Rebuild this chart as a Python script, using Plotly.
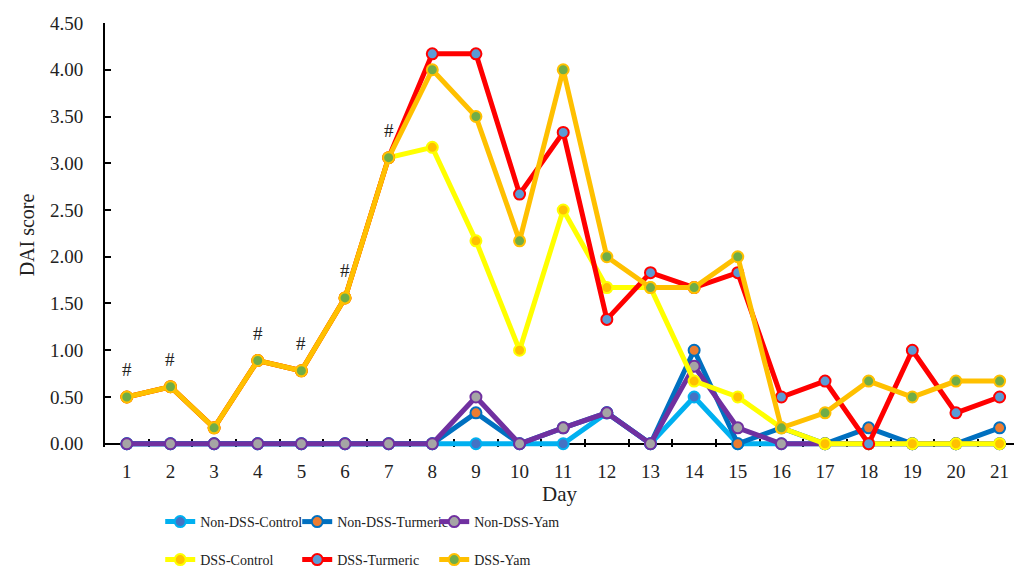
import plotly.graph_objects as go

days = list(range(1, 22))
non_dss_control = [0, 0, 0, 0, 0, 0, 0, 0, 0, 0, 0, 0.33, 0, 0.5, 0, 0, 0, 0, 0, 0, 0]
non_dss_turmeric = [0, 0, 0, 0, 0, 0, 0, 0, 0.33, 0, 0.17, 0.33, 0, 1.0, 0, 0.17, 0, 0.17, 0, 0, 0.17]
non_dss_yam = [0, 0, 0, 0, 0, 0, 0, 0, 0.5, 0, 0.17, 0.33, 0, 0.83, 0.17, 0, 0, 0, 0, 0, 0]
dss_control = [0.5, 0.61, 0.17, 0.89, 0.78, 1.56, 3.06, 3.17, 2.17, 1.0, 2.5, 1.67, 1.67, 0.67, 0.5, 0.17, 0, 0, 0, 0, 0]
dss_turmeric = [0.5, 0.61, 0.17, 0.89, 0.78, 1.56, 3.06, 4.17, 4.17, 2.67, 3.33, 1.33, 1.83, 1.67, 1.83, 0.5, 0.67, 0, 1.0, 0.33, 0.5]
dss_yam = [0.5, 0.61, 0.17, 0.89, 0.78, 1.56, 3.06, 4.0, 3.5, 2.17, 4.0, 2.0, 1.67, 1.67, 2.0, 0.17, 0.33, 0.67, 0.5, 0.67, 0.67]
hash_days = [1, 2, 4, 5, 6, 7]

FONT = "Liberation Serif, Times New Roman, serif"

series = [
    ("Non-DSS-Control", non_dss_control, "#00B0F0", "#4472C4", "legend"),
    ("Non-DSS-Turmeric", non_dss_turmeric, "#0070C0", "#ED7D31", "legend"),
    ("Non-DSS-Yam", non_dss_yam, "#7030A0", "#A5A5A5", "legend"),
    ("DSS-Control", dss_control, "#FFFF00", "#FFC000", "legend2"),
    ("DSS-Turmeric", dss_turmeric, "#FF0000", "#5B9BD5", "legend2"),
    ("DSS-Yam", dss_yam, "#FFC000", "#70AD47", "legend2"),
]

fig = go.Figure()
for name, vals, lc, mc, lg in series:
    fig.add_trace(go.Scatter(
        x=days, y=vals, name=name, mode="lines+markers",
        line=dict(color=lc, width=5),
        marker=dict(symbol="circle", size=11, color=mc, line=dict(color=lc, width=2)),
        cliponaxis=False, legend=lg,
    ))

for d in hash_days:
    fig.add_annotation(x=d, y=dss_yam[d - 1], text="#", showarrow=False, yshift=27,
                       font=dict(family=FONT, size=19, color="#222"))

legend_common = dict(orientation="h", xref="container", yref="container", x=0.158,
                     xanchor="left", yanchor="top", entrywidth=92, entrywidthmode="pixels",
                     font=dict(family=FONT, size=14, color="#222"), tracegroupgap=0, itemwidth=30)

fig.update_layout(
    width=1014, height=570,
    margin=dict(l=105, r=0, t=23, b=123),
    paper_bgcolor="white", plot_bgcolor="white",
    font=dict(family=FONT, size=18, color="#222"),
    legend=dict(y=1 - 506 / 570, **legend_common),
    legend2=dict(y=1 - 544 / 570, **legend_common),
    showlegend=True,
)
fig.update_xaxes(
    range=[0.5, 21.33], tickmode="array", tickvals=days, ticktext=[str(d) for d in days],
    ticks="", showline=False, showgrid=False, zeroline=False, layer="below traces",
    tickfont=dict(family=FONT, size=19, color="#222"), ticklabelstandoff=11,
    minor=dict(tickvals=[d + 0.5 for d in days[:-1]], ticks="inside", ticklen=8,
               tickwidth=2, tickcolor="black", showgrid=False),
    title=dict(text="Day", font=dict(family=FONT, size=21, color="#222"), standoff=1),
)
fig.update_yaxes(
    range=[-0.035, 4.5], tickmode="array", tickvals=[i * 0.5 for i in range(10)],
    tickformat=".2f", ticks="inside", ticklen=6, tickwidth=2, tickcolor="black",
    showline=True, linecolor="black", linewidth=2, showgrid=False,
    zeroline=True, zerolinecolor="black", zerolinewidth=2, layer="below traces",
    tickfont=dict(family=FONT, size=19, color="#222"), ticklabelstandoff=16,
    title=dict(text="DAI score", font=dict(family=FONT, size=20, color="#222"), standoff=10),
)

fig.write_html("out.html", config={"displayModeBar": False},
               post_script="document.body.style.margin='0';")
